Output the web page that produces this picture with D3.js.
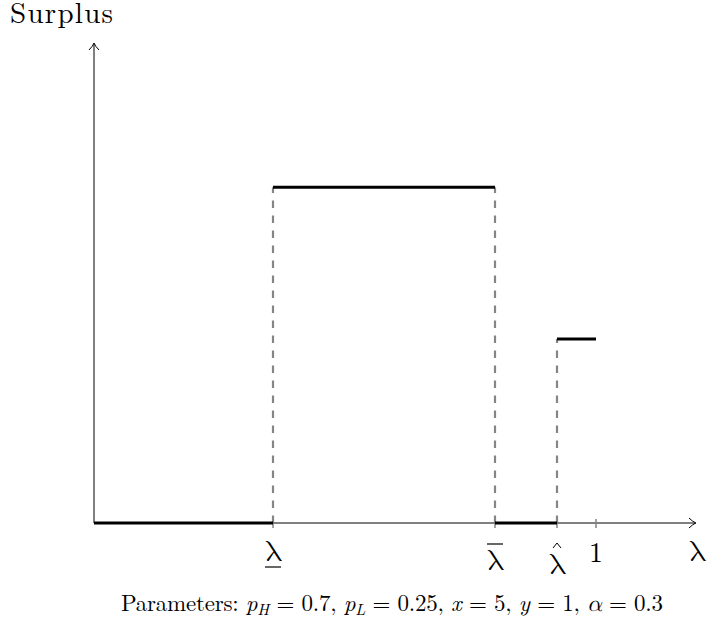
<!DOCTYPE html>
<html>
<head>
<meta charset="utf-8">
<script src="https://cdn.jsdelivr.net/npm/d3@7"></script>
<style>
  html, body { margin: 0; padding: 0; background: #fff; }
  svg { display: block; }
</style>
</head>
<body>
<svg id="chart" width="707" height="634"></svg>
<script>
// ---- data ----
const thresholdValues = [0.357, 0.799, 0.922, 1.0];
const thresholdLabels = ["λ_under", "λ_bar", "λ_hat", "1"];
const segmentStart = [0.0, 0.357, 0.799, 0.922];
const segmentEnd   = [0.357, 0.799, 0.922, 1.0];
const segmentValue = [0.0, 1.0, 0.0, 0.548];
const dashedX      = [0.357, 0.799, 0.922];
const dashedTop    = [1.0, 1.0, 0.548];
const xAxisMax = 1.2;
const yAxisMax = 1.43;
const yLabel = "Surplus";
const xLabel = "λ";

const FONT = '"Latin Modern Roman", "Liberation Serif", serif';
const GREEK = '"Latin Modern Math", "Liberation Serif", serif';
const svg = d3.select("#chart");
const x = d3.scaleLinear().domain([0, xAxisMax]).range([94, 696]);
const y = d3.scaleLinear().domain([0, yAxisMax]).range([523, 43]);
const px = v => Math.round(x(v));
const txt = (sel, f) => sel.append("text").style("font-family", f || FONT).attr("fill", "#000");

const gray = "#858585";

// dashed guides
svg.append("g").selectAll("line").data(dashedX).join("line")
  .attr("x1", d => px(d)).attr("x2", d => px(d))
  .attr("y1", y(0)).attr("y2", (d, i) => y(dashedTop[i]))
  .attr("stroke", gray).attr("stroke-width", 2.2)
  .attr("stroke-dasharray", "7.5,7.5");

// axes
svg.append("line").attr("x1", x(0)).attr("x2", x(xAxisMax) - 1)
  .attr("y1", y(0)).attr("y2", y(0)).attr("stroke", "#000").attr("stroke-width", 1);
svg.append("line").attr("x1", x(0)).attr("x2", x(0))
  .attr("y1", y(0)).attr("y2", y(yAxisMax) + 1).attr("stroke", "#000").attr("stroke-width", 1);

// arrowheads (LaTeX style)
const xt = x(xAxisMax), yt = y(0);
svg.append("path")
  .attr("d", `M${xt-7},${yt-5} Q${xt-3},${yt-1} ${xt},${yt} Q${xt-3},${yt+1} ${xt-7},${yt+5}`)
  .attr("fill", "none").attr("stroke", "#000").attr("stroke-width", 1);
const ax = x(0), ay = y(yAxisMax);
svg.append("path")
  .attr("d", `M${ax-5},${ay+7} Q${ax-1},${ay+3} ${ax},${ay} Q${ax+1},${ay+3} ${ax+5},${ay+7}`)
  .attr("fill", "none").attr("stroke", "#000").attr("stroke-width", 1);

// ticks
svg.append("g").selectAll("line").data(thresholdValues).join("line")
  .attr("x1", d => px(d)).attr("x2", d => px(d))
  .attr("y1", y(0) - 4).attr("y2", y(0) + 5)
  .attr("stroke", gray).attr("stroke-width", 1.5);

// surplus segments
svg.append("g").selectAll("line").data(segmentValue).join("line")
  .attr("x1", (d, i) => px(segmentStart[i])).attr("x2", (d, i) => px(segmentEnd[i]))
  .attr("y1", d => y(d)).attr("y2", d => y(d))
  .attr("stroke", "#000").attr("stroke-width", 3);

// tick labels
const lab = svg.append("g");
thresholdValues.forEach((v, i) => {
  const cx = px(v);
  const kind = thresholdLabels[i];
  if (kind === "1") {
    txt(lab).attr("x", cx).attr("y", 562).attr("text-anchor", "middle")
      .attr("font-size", 28).text("1");
  } else {
    const base = kind === "λ_under" ? 561 : (kind === "λ_bar" ? 570 : 574);
    txt(lab, GREEK).attr("x", cx).attr("y", base).attr("text-anchor", "middle")
      .attr("font-size", 30).text("λ");
    if (kind === "λ_under") {
      lab.append("line").attr("x1", cx - 8).attr("x2", cx + 8).attr("y1", 567).attr("y2", 567)
        .attr("stroke", "#000").attr("stroke-width", 1.2);
    } else if (kind === "λ_bar") {
      lab.append("line").attr("x1", cx - 8).attr("x2", cx + 8).attr("y1", 544).attr("y2", 544)
        .attr("stroke", "#000").attr("stroke-width", 1.2);
    } else {
      lab.append("path").attr("d", `M${cx-4},${548} L${cx},${543} L${cx+4},${548}`)
        .attr("fill", "none").attr("stroke", "#000").attr("stroke-width", 1);
    }
  }
});

// axis labels
txt(svg).attr("x", 10).attr("y", 23).attr("font-size", 29)
  .attr("textLength", 103).attr("lengthAdjust", "spacing").text(yLabel);
txt(svg, GREEK).attr("x", x(xAxisMax) + 1).attr("y", 561).attr("text-anchor", "middle")
  .attr("font-size", 30).text(xLabel);

// caption
const cap = txt(svg).attr("x", 121).attr("y", 611).attr("font-size", 23)
  .attr("textLength", 542).attr("lengthAdjust", "spacing");
const parts = [
  ["Parameters: ", false, false], ["p", true, false], ["H", true, true], [" = 0.7, ", false, false],
  ["p", true, false], ["L", true, true], [" = 0.25, ", false, false],
  ["x", true, false], [" = 5, ", false, false],
  ["y", true, false], [" = 1, ", false, false],
  ["α", true, false], [" = 0.3", false, false]
];
let prevSub = false;
parts.forEach(([t, it, sub]) => {
  const ts = cap.append("tspan").text(t);
  if (it) ts.attr("font-style", "italic");
  if (t === "α") ts.style("font-family", GREEK);
  if (sub) { ts.attr("font-size", 16).attr("dy", 4); prevSub = true; }
  else if (prevSub) { ts.attr("dy", -4); prevSub = false; }
});
</script>
</body>
</html>
